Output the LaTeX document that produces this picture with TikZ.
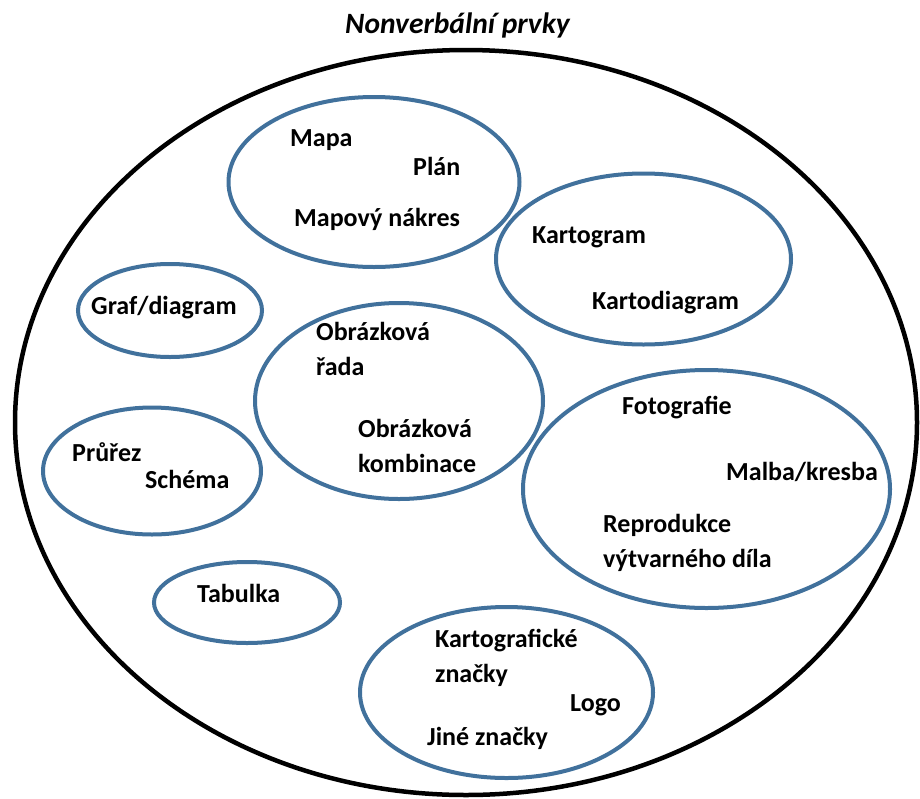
\documentclass[tikz,border=0pt]{standalone}
\usepackage{fontspec}
\setmainfont{Carlito}
\usepackage{tikz}
\usetikzlibrary{shapes.geometric}
\definecolor{nvBlue}{RGB}{65,113,156}

\begin{document}
\begin{tikzpicture}[
  x=1pt, y=-1pt,
  font=\fontsize{26}{35}\selectfont\bfseries,
  outer/.style={draw=black, line width=4.5pt, ellipse, inner sep=0pt},
  group/.style={draw=nvBlue, line width=4pt, ellipse, inner sep=0pt},
  lbl/.style={anchor=base west, inner sep=0pt, align=left}
]
\useasboundingbox (0,0) rectangle (920,798);

\node[lbl, font=\fontsize{29.5}{35}\selectfont\bfseries\itshape] (title) at (345,33) {Nonverbální prvky};
\node[outer, minimum width=902pt, minimum height=745pt] (all) at (466,422.5) {};

% skupiny
\node[group, minimum width=291pt, minimum height=170pt] (mapy) at (374,182) {};
\node[group, minimum width=295pt, minimum height=171pt] (karto) at (643.5,259) {};
\node[group, minimum width=184pt, minimum height=93pt] (graf) at (170,310.5) {};
\node[group, minimum width=288pt, minimum height=196pt] (obr) at (399,401) {};
\node[group, minimum width=218pt, minimum height=127pt] (prurez) at (152,471) {};
\node[group, minimum width=186pt, minimum height=81pt] (tab) at (247,602.5) {};
\node[group, minimum width=367pt, minimum height=238pt] (foto) at (706.5,489) {};
\node[group, minimum width=293pt, minimum height=171pt] (znacky) at (506.5,692.5) {};

% popisky (u dvou radku je base posledni radek)
\node[lbl] (mapa) at (290,146) {Mapa};
\node[lbl] (plan) at (413,175) {Plán};
\node[lbl] (nakres) at (294,226) {Mapový nákres};
\node[lbl] (kartogram) at (532,243) {Kartogram};
\node[lbl] (kartodiagram) at (592,309) {Kartodiagram};
\node[lbl] (grafdiag) at (91,314) {Graf/diagram};
\node[lbl] (obrrada) at (316,375) {Obrázková\\řada};
\node[lbl] (obrkomb) at (358,472) {Obrázková\\kombinace};
\node[lbl] (prurezl) at (72,461) {Průřez};
\node[lbl] (schema) at (145,488) {Schéma};
\node[lbl] (tabulka) at (197,602) {Tabulka};
\node[lbl] (fotografie) at (622,414) {Fotografie};
\node[lbl] (malba) at (726,480) {Malba/kresba};
\node[lbl] (repro) at (603,567) {Reprodukce\\výtvarného díla};
\node[lbl] (kartzn) at (435,682) {Kartografické\\značky};
\node[lbl] (logo) at (570,711) {Logo};
\node[lbl] (jine) at (427,745) {Jiné značky};
\end{tikzpicture}
\end{document}
